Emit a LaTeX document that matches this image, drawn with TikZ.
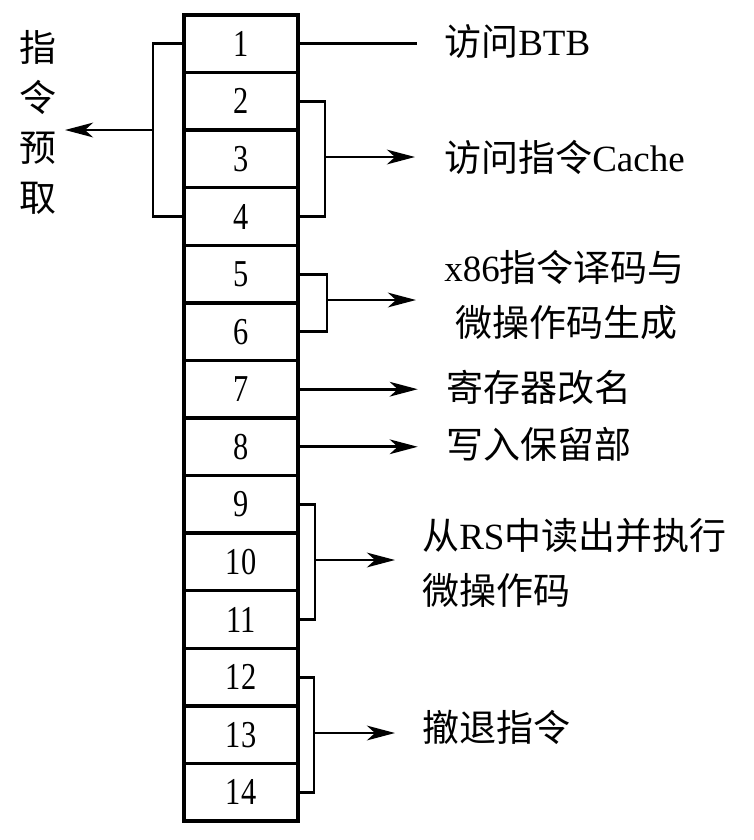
\documentclass[tikz,border=0pt]{standalone}
\usepackage{fontspec}
\setmainfont{Liberation Serif}
\newfontfamily\cjk{Noto Sans CJK SC}
\newfontfamily\numfont[FakeStretch=0.8]{Liberation Serif}
\usetikzlibrary{arrows.meta}
\newcommand{\zh}[1]{{\cjk #1}}
\begin{document}
\begin{tikzpicture}[x=0.75pt,y=-0.75pt,
  cell/.style={draw,line width=2.6pt,minimum width=85.5pt,minimum height=43.2pt,inner sep=0pt,
    font=\numfont\fontsize{28.5}{30}\selectfont},
  wire/.style={line width=2.2pt},
  arr/.style={wire,-{Stealth[length=21pt,width=11pt,inset=6pt]}},
  lab/.style={anchor=west,inner sep=0pt,align=left,font=\fontsize{27.75}{41.25}\selectfont}]
  \useasboundingbox (0,0) rectangle (754,840);
  \foreach \i in {1,...,14}
    \node[cell] (r\i) at (241,{15+57.57*(\i-0.5)}) {\i};
  % left side: fetch
  \coordinate (bf) at (153,130);
  \coordinate (tf) at (65,130);
  \draw[wire] (r1.west) -| (bf) |- (r4.west);
  \draw[arr] (bf) -- (tf);
  \node[inner sep=0pt,align=center,font=\cjk\fontsize{27.75}{37.5}\selectfont] (fetch) at (38,122) {指\\令\\预\\取};
  % right side
  \path (r1.east) ++(117,0) coordinate (t1);
  \draw[wire] (r1.east) -- (t1);
  \node[lab] (l1) at (444,42) {\zh{访问}BTB};
  \coordinate (b24) at (325,157);
  \coordinate (t24) at (415,157);
  \draw[wire] (r2.east) -| (b24) |- (r4.east);
  \draw[arr] (b24) -- (t24);
  \node[lab] (l24) at (444,157) {\zh{访问指令}Cache};
  \coordinate (b56) at (327,300);
  \coordinate (t56) at (416,300);
  \draw[wire] (r5.east) -| (b56) |- (r6.east);
  \draw[arr] (b56) -- (t56);
  \node[lab] (l56) at (444,295) {x86\zh{指令译码与}\\\hspace*{0.3em}\zh{微操作码生成}};
  \path (r7.east) ++(118,0) coordinate (t7);
  \draw[arr] (r7.east) -- (t7);
  \node[lab] (l7) at (446,387) {\zh{寄存器改名}};
  \path (r8.east) ++(118,0) coordinate (t8);
  \draw[arr] (r8.east) -- (t8);
  \node[lab] (l8) at (446,444) {\zh{写入保留部}};
  \coordinate (b911) at (315,560);
  \coordinate (t911) at (395,560);
  \draw[wire] (r9.east) -| (b911) |- (r11.east);
  \draw[arr] (b911) -- (t911);
  \node[lab] (l911) at (422,563) {\zh{从}RS\zh{中读出并执行}\\\zh{微操作码}};
  \coordinate (b1214) at (314,733);
  \coordinate (t1214) at (395,733);
  \draw[wire] (r12.east) -| (b1214) |- (r14.east);
  \draw[arr] (b1214) -- (t1214);
  \node[lab] (l1214) at (422,727) {\zh{撤退指令}};
\end{tikzpicture}
\end{document}
